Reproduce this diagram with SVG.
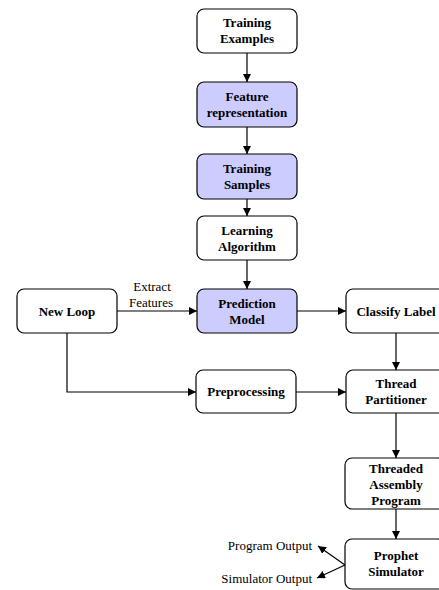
<svg xmlns="http://www.w3.org/2000/svg" width="439" height="590" viewBox="0 0 439 590">
<style>
.box{fill:#fff;stroke:#000;stroke-width:1.2}
.hl{fill:#ccccff}
.t{font-family:"Liberation Serif",serif;font-weight:bold;font-size:13px;text-anchor:middle}
.l{font-family:"Liberation Serif",serif;font-size:13px}
.c{fill:none;stroke:#000;stroke-width:1.2;marker-end:url(#a)}
</style>
<defs>
<marker id="a" viewBox="0 0 10 10" refX="10" refY="5" markerWidth="8" markerHeight="8" markerUnits="userSpaceOnUse" orient="auto">
<path d="M0,0 L10,5 L0,10 z" fill="#000"/>
</marker>
</defs>
<rect width="439" height="590" fill="#fff"/>
<g id="connectors">
<path class="c" d="M247,53 V82"/>
<path class="c" d="M247,127 V154"/>
<path class="c" d="M247,199 V216"/>
<path class="c" d="M247,260 V289"/>
<path class="c" d="M117,311 H197"/>
<path class="c" d="M297,311 H346"/>
<path class="c" d="M67,333 V392 H196"/>
<path class="c" d="M296,392 H346"/>
<path class="c" d="M396,333 V370"/>
<path class="c" d="M396,413 V458"/>
<path class="c" d="M396,509 V539"/>
<path class="c" d="M345,565 L318,546"/>
<path class="c" d="M345,565 L317,578"/>
<text class="l" x="152" y="291" text-anchor="middle">Extract</text>
<text class="l" x="151" y="307" text-anchor="middle">Features</text>
<text class="l" x="312" y="550" text-anchor="end">Program Output</text>
<text class="l" x="312" y="583" text-anchor="end">Simulator Output</text>
</g>
<g id="training-examples"><rect class="box" x="197" y="9" width="100" height="44" rx="7"/><text class="t" x="247" y="27">Training</text><text class="t" x="247" y="43">Examples</text></g>
<g id="feature-representation"><rect class="box hl" x="197" y="82" width="100" height="45" rx="7"/><text class="t" x="247" y="101">Feature</text><text class="t" x="247" y="117">representation</text></g>
<g id="training-samples"><rect class="box hl" x="197" y="154" width="100" height="45" rx="7"/><text class="t" x="247" y="173">Training</text><text class="t" x="247" y="189">Samples</text></g>
<g id="learning-algorithm"><rect class="box" x="197" y="216" width="100" height="44" rx="7"/><text class="t" x="247" y="235">Learning</text><text class="t" x="247" y="251">Algorithm</text></g>
<g id="prediction-model"><rect class="box hl" x="197" y="289" width="100" height="44" rx="7"/><text class="t" x="247" y="308">Prediction</text><text class="t" x="247" y="324">Model</text></g>
<g id="new-loop"><rect class="box" x="17" y="289" width="100" height="44" rx="7"/><text class="t" x="67" y="316">New Loop</text></g>
<g id="classify-label"><rect class="box" x="346" y="289" width="100" height="44" rx="7"/><text class="t" x="396" y="316">Classify Label</text></g>
<g id="preprocessing"><rect class="box" x="196" y="370" width="100" height="43" rx="7"/><text class="t" x="246" y="396">Preprocessing</text></g>
<g id="thread-partitioner"><rect class="box" x="346" y="370" width="100" height="43" rx="7"/><text class="t" x="396" y="388">Thread</text><text class="t" x="396" y="404">Partitioner</text></g>
<g id="threaded-assembly"><rect class="box" x="345" y="458" width="100" height="51" rx="7"/><text class="t" x="396" y="473">Threaded</text><text class="t" x="396" y="489">Assembly</text><text class="t" x="396" y="505">Program</text></g>
<g id="prophet-simulator"><rect class="box" x="345" y="539" width="100" height="50" rx="7"/><text class="t" x="396" y="560">Prophet</text><text class="t" x="396" y="576">Simulator</text></g>
</svg>
